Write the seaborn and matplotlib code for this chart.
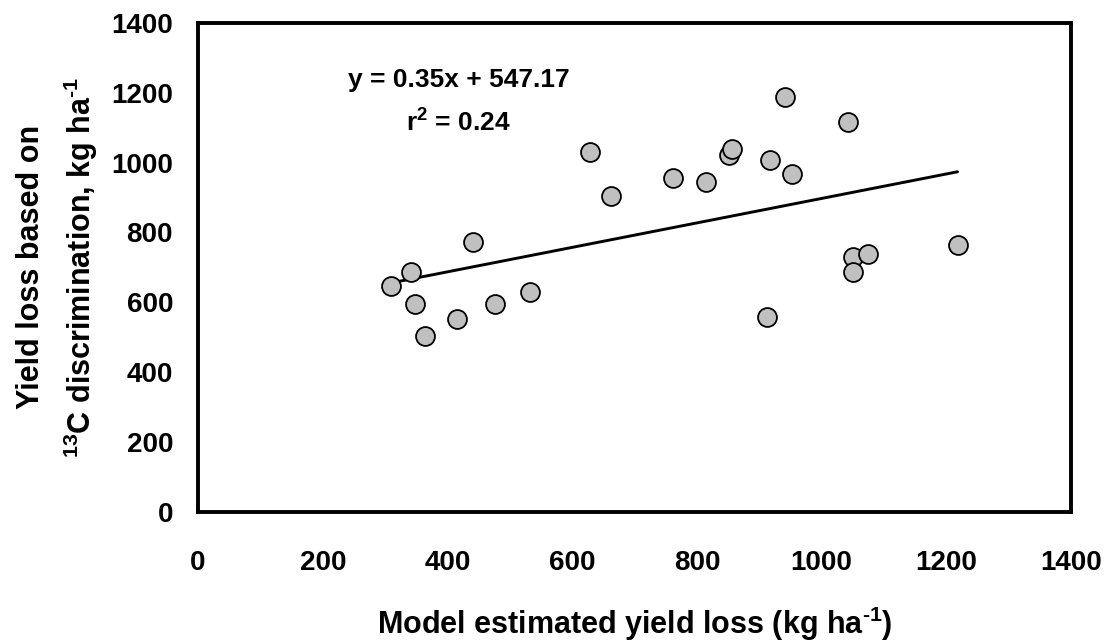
import pandas as pd
import matplotlib.pyplot as plt
import seaborn as sns

# values
model_loss = [309, 341, 348, 364, 415, 441, 476, 533, 629, 662, 761, 814, 852,
              856, 913, 917, 942, 952, 1042, 1051, 1051, 1074, 1218]
c13_loss = [648, 687, 596, 505, 551, 773, 596, 630, 1031, 905, 956, 945, 1022,
            1039, 557, 1008, 1186, 967, 1117, 729, 688, 739, 763]
slope = 0.35
intercept = 547.17
r2 = 0.24

df = pd.DataFrame({'model': model_loss, 'c13': c13_loss})
fit = pd.DataFrame({'model': [min(model_loss), max(model_loss)]})
fit['c13'] = slope * fit['model'] + intercept

sns.set_style("white")
plt.rcParams['font.family'] = ['Liberation Sans', 'DejaVu Sans']
plt.rcParams['font.weight'] = 'bold'
plt.rcParams['text.color'] = 'black'
plt.rcParams['axes.labelcolor'] = 'black'
plt.rcParams['mathtext.fontset'] = 'custom'
plt.rcParams['mathtext.rm'] = 'Liberation Sans:bold'
plt.rcParams['mathtext.it'] = 'Liberation Sans:bold'
plt.rcParams['mathtext.bf'] = 'Liberation Sans:bold'
plt.rcParams['mathtext.default'] = 'regular'

fig = plt.figure(figsize=(11.07, 6.41), dpi=100)
ax = fig.add_axes([0.1789, 0.2012, 0.7886, 0.7634])

sns.lineplot(data=fit, x='model', y='c13', color='black', linewidth=2.1, ax=ax)
sns.scatterplot(data=df, x='model', y='c13', s=185, color='#C0C0C0',
                edgecolor='black', linewidth=1.3, zorder=3, ax=ax)

ax.set_xlim(0, 1400)
ax.set_ylim(0, 1400)
ax.set_xticks(range(0, 1401, 200))
ax.set_yticks(range(0, 1401, 200))
ax.tick_params(direction='out', length=8, width=1, color='#808080',
               labelcolor='black', labelsize=20)
ax.tick_params(axis='x', pad=19)
ax.tick_params(axis='y', pad=10)
for lab in ax.get_xticklabels() + ax.get_yticklabels():
    lab.set_fontweight('bold')
for sp in ax.spines.values():
    sp.set_linewidth(2.8)
    sp.set_color('black')

ax.set_xlabel('Model estimated yield loss (kg ha$^{\u20101}$)', fontsize=22,
              fontweight='bold', labelpad=21)
ax.set_ylabel('Yield loss based on\n$^{13}$C discrimination, kg ha$^{\u20101}$',
              fontsize=22, fontweight='bold', labelpad=8, linespacing=1.55)

ax.text(418, 1215, f'y = {slope}x + {intercept}', fontsize=19,
        fontweight='bold', ha='center', va='baseline')
ax.text(418, 1088, f'r$^2$ = {r2}', fontsize=19, fontweight='bold',
        ha='center', va='baseline')

fig.savefig('out.png', dpi=100)
